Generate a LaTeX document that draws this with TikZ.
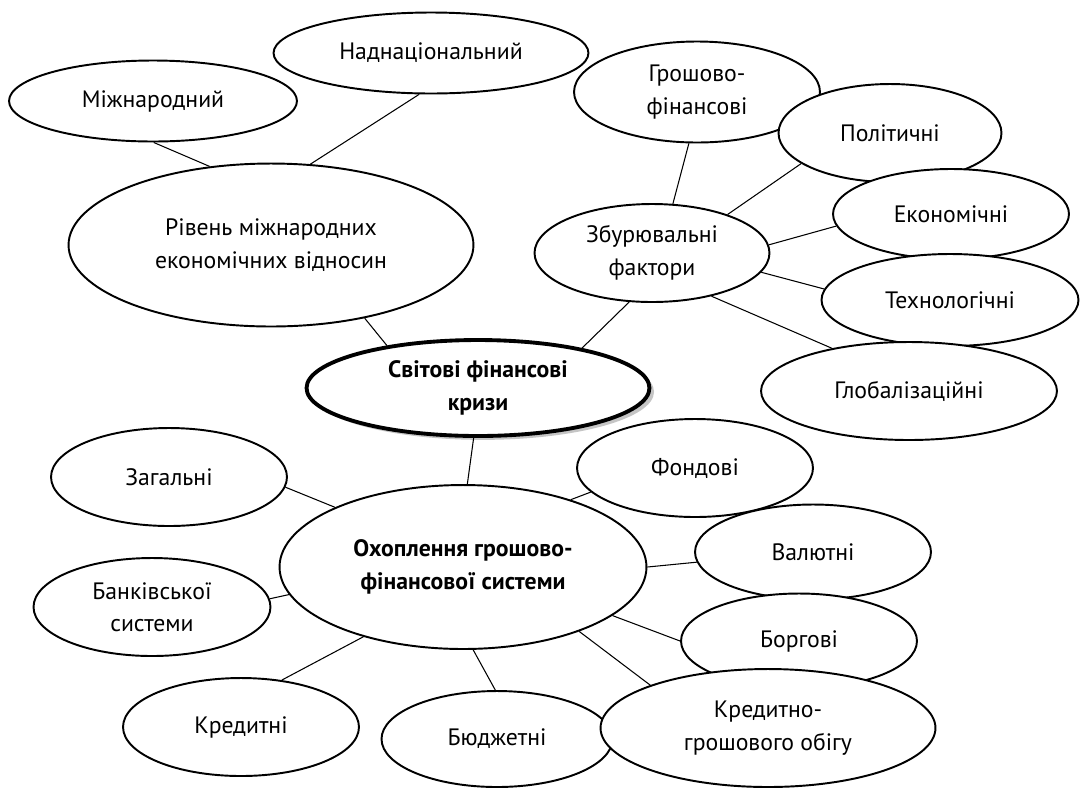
\documentclass[tikz,border=0pt]{standalone}
\usepackage{fontspec}
\setmainfont{PT Sans}
\usetikzlibrary{shapes.geometric,shadows}
\tikzset{
  bub/.style={ellipse, draw, line width=1.1pt, fill=white, inner sep=0pt, align=center,
    font=\fontsize{13.5}{18.5}\selectfont},
  mainbub/.style={bub, line width=2.2pt, font=\fontsize{13.5}{18.5}\selectfont\bfseries,
    drop shadow={shadow xshift=2.6pt, shadow yshift=-2.2pt, fill=black!45}},
  boldbub/.style={bub, font=\fontsize{13.5}{18.5}\selectfont\bfseries},
  conn/.style={line width=0.6pt},
}
\begin{document}
\begin{tikzpicture}[x=0.02cm,y=-0.02cm]
\useasboundingbox (0,0) rectangle (1081,789);
% top-left group
\node[bub, minimum width=5.76cm, minimum height=1.62cm] (mizh) at (153,101) {Міжнародний};
\node[bub, minimum width=6.3cm, minimum height=1.62cm] (nadn) at (431,53) {Наднаціональний};
\node[bub, minimum width=8.1cm, minimum height=3.26cm] (riv) at (271,245) {Рівень міжнародних\\економічних відносин};
% top-right group
\node[bub, minimum width=4.92cm, minimum height=2.02cm] (hrosh) at (697,92) {Грошово-\\фінансові};
\node[bub, minimum width=4.46cm, minimum height=1.96cm] (polit) at (890,133) {Політичні};
\node[bub, minimum width=4.72cm, minimum height=1.8cm] (ekon) at (951,214) {Економічні};
\node[bub, minimum width=5.14cm, minimum height=1.84cm] (tekh) at (950,300) {Технологічні};
\node[bub, minimum width=5.92cm, minimum height=1.96cm] (glob) at (909,391) {Глобалізаційні};
\node[bub, minimum width=4.7cm, minimum height=1.96cm] (zbur) at (652,253) {Збурювальні\\фактори};
% centre
\node[mainbub, minimum width=6.86cm, minimum height=1.92cm] (svit) at (478,388) {Світові фінансові\\кризи};
% bottom group
\node[bub, minimum width=4.72cm, minimum height=1.96cm] (zah) at (169,477) {Загальні};
\node[bub, minimum width=4.72cm, minimum height=1.96cm] (fond) at (695,468) {Фондові};
\node[bub, minimum width=4.72cm, minimum height=1.9cm] (val) at (813,552) {Валютні};
\node[bub, minimum width=4.72cm, minimum height=1.9cm] (borh) at (799,641) {Боргові};
\node[boldbub, minimum width=7.34cm, minimum height=3.28cm] (okh) at (463,567) {Охоплення грошово-\\фінансової системи};
\node[bub, minimum width=4.74cm, minimum height=1.96cm] (bank) at (152,607) {Банківської\\системи};
\node[bub, minimum width=4.72cm, minimum height=1.96cm] (kred) at (241,727) {Кредитні};
\node[bub, minimum width=4.62cm, minimum height=1.92cm] (budzh) at (497,739) {Бюджетні};
\node[bub, minimum width=6.7cm, minimum height=2.36cm] (kg) at (768,728) {Кредитно-\\грошового обігу};
% connectors
\draw[conn] (mizh.-89) -- (riv.128.6);
\draw[conn] (nadn.-106.8) -- (riv.64.6);
\draw[conn] (riv.-38.1) -- (svit.155.2);
\draw[conn] (hrosh.-99) -- (zbur.67.2);
\draw[conn] (polit.199.7) -- (zbur.27.8);
\draw[conn] (ekon.186.2) -- (zbur.4.9);
\draw[conn] (tekh.175.1) -- (zbur.-10.3);
\draw[conn] (glob.151.4) -- (zbur.-36.9);
\draw[conn] (zbur.-115.6) -- (svit.21.5);
\draw[conn] (svit.-95.8) -- (okh.87.9);
\draw[conn] (zah.-5.3) -- (okh.155.9);
\draw[conn] (fond.193.6) -- (okh.32.5);
\draw[conn] (val.185.8) -- (okh.0.9);
\draw[conn] (bank.4.3) -- (okh.189.1);
\draw[conn] (borh.180.5) -- (okh.-18.1);
\draw[conn] (kred.49.4) -- (okh.215);
\draw[conn] (budzh.92.3) -- (okh.-83.7);
\draw[conn] (kg.160.9) -- (okh.-29.4);
\end{tikzpicture}
\end{document}
